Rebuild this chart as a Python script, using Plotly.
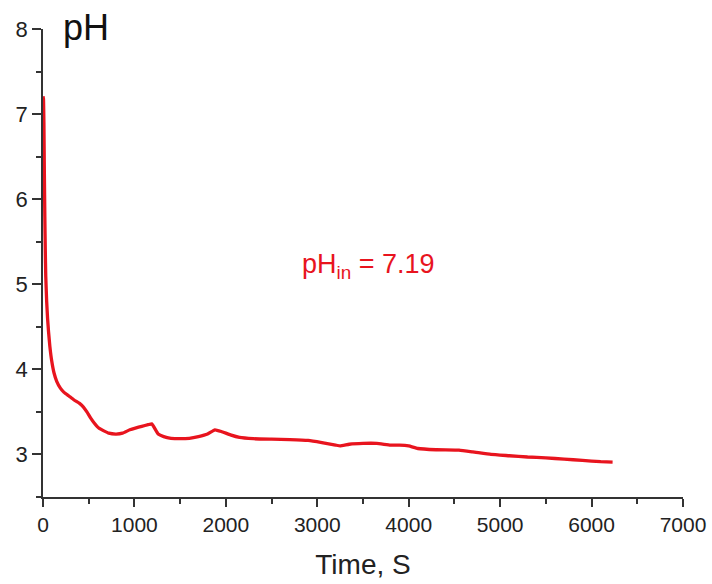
import plotly.graph_objects as go

time_s = [0, 5, 10, 15, 20, 25, 30, 40, 50, 60, 75, 95, 120, 150, 190, 230, 280, 340, 400,
          440, 480, 520, 560, 610, 660, 720, 800, 870, 950, 1010, 1080, 1150, 1190, 1220,
          1260, 1320, 1400, 1500, 1600, 1700, 1800, 1880, 1950, 2050, 2150, 2300, 2500,
          2700, 2900, 3050, 3200, 3250, 3350, 3500, 3650, 3800, 3900, 4000, 4100, 4300,
          4550, 4700, 4900, 5100, 5300, 5500, 5700, 5900, 6100, 6230]
ph = [7.21, 7.18, 6.9, 6.3, 5.8, 5.4, 5.1, 4.8, 4.6, 4.45, 4.27, 4.1, 3.96, 3.86, 3.78,
      3.73, 3.69, 3.64, 3.6, 3.56, 3.5, 3.43, 3.37, 3.31, 3.28, 3.25, 3.24, 3.25, 3.29,
      3.31, 3.33, 3.35, 3.36, 3.31, 3.24, 3.21, 3.19, 3.185, 3.19, 3.21, 3.24, 3.29, 3.27,
      3.23, 3.20, 3.185, 3.18, 3.175, 3.165, 3.14, 3.11, 3.10, 3.12, 3.13, 3.13, 3.11,
      3.11, 3.10, 3.07, 3.055, 3.05, 3.03, 3.0, 2.985, 2.97, 2.96, 2.945, 2.93, 2.915, 2.91]

x_ticks = [0, 1000, 2000, 3000, 4000, 5000, 6000, 7000]
y_ticks = [3, 4, 5, 6, 7, 8]

RED = "#e8141e"
AXIS = "#333333"
FONT = "Liberation Sans, Arial, sans-serif"

fig = go.Figure()
fig.add_trace(go.Scatter(x=time_s, y=ph, mode="lines",
                         line=dict(color=RED, width=3.3, shape="spline", smoothing=0.3),
                         showlegend=False))

fig.add_annotation(x=3560, y=5.21, xref="x", yref="y", text="pH<sub>in</sub> = 7.19",
                   showarrow=False, font=dict(family=FONT, size=27, color=RED),
                   xanchor="center", yanchor="middle")
fig.add_annotation(x=(61 - 43) / 640, y=1 + (29 - 5) / 468, xref="paper", yref="paper",
                   text="pH", showarrow=False,
                   font=dict(family=FONT, size=36, color="#111111"),
                   xanchor="left", yanchor="top")

fig.update_layout(
    width=712, height=584,
    margin=dict(l=43, r=29, t=29, b=87),
    paper_bgcolor="white", plot_bgcolor="white",
    font=dict(family=FONT, size=21, color="#222222"),
    xaxis=dict(range=[0, 7000], tickvals=x_ticks, ticktext=[str(v) for v in x_ticks],
               showline=True, linecolor=AXIS, linewidth=1.5, ticks="outside",
               ticklen=8, tickwidth=1.5, tickcolor=AXIS, showgrid=False, zeroline=False,
               tickfont=dict(size=21), automargin=False,
               minor=dict(dtick=500, tick0=0, ticks="outside", ticklen=5, tickwidth=1.5,
                          tickcolor=AXIS, showgrid=False),
               title=dict(text="Time, S", font=dict(family=FONT, size=28, color="#222222"),
                          standoff=19)),
    yaxis=dict(range=[2.5, 8], tickvals=y_ticks, ticktext=[str(v) for v in y_ticks],
               showline=True, linecolor=AXIS, linewidth=1.5, ticks="outside",
               ticklen=9, tickwidth=1.5, tickcolor=AXIS, showgrid=False, zeroline=False,
               tickfont=dict(size=22), automargin=False,
               minor=dict(dtick=0.5, tick0=0, ticks="outside", ticklen=5, tickwidth=1.5,
                          tickcolor=AXIS, showgrid=False)),
)

fig.write_html("out.html")
